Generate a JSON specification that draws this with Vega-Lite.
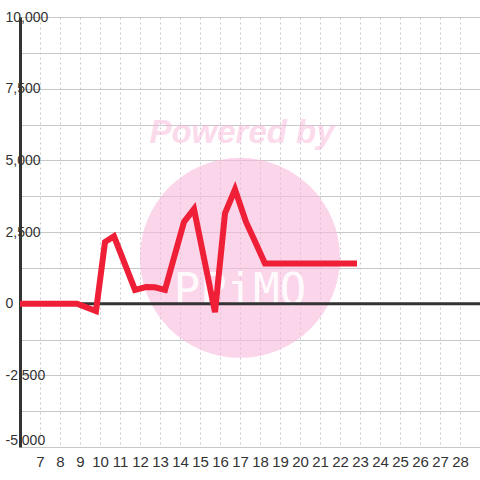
{
  "$schema": "https://vega.github.io/schema/vega-lite/v6.json",
  "width": 460,
  "height": 430,
  "autosize": {"type": "none"},
  "padding": {"left": 20, "top": 17, "right": 0, "bottom": 33},
  "background": "white",
  "config": {
    "view": {"stroke": null},
    "font": "Liberation Sans"
  },
  "datasets": {
    "series": [
      {"x": 6, "v": 0},
      {"x": 8.85, "v": 0},
      {"x": 9.8, "v": -260},
      {"x": 10.25, "v": 2150},
      {"x": 10.7, "v": 2350},
      {"x": 11.75, "v": 480},
      {"x": 12.3, "v": 580},
      {"x": 12.75, "v": 570},
      {"x": 13.25, "v": 480},
      {"x": 14.2, "v": 2850},
      {"x": 14.7, "v": 3300},
      {"x": 15.75, "v": -300},
      {"x": 16.25, "v": 3150},
      {"x": 16.75, "v": 3980},
      {"x": 17.3, "v": 2850},
      {"x": 17.7, "v": 2250},
      {"x": 18.25, "v": 1400},
      {"x": 22.85, "v": 1400}
    ],
    "circle": [{"x": 17, "v": 1600}],
    "powered": [{"x": 17.1, "v": 5950, "t": "Powered by"}],
    "logo": [{"x": 17, "v": 420, "t": "PPiMO"}],
    "zero": [{"x": 6, "v": 0}, {"x": 29, "v": 0}]
  },
  "encoding": {
    "x": {
      "field": "x", "type": "quantitative",
      "scale": {"domain": [6, 29], "nice": false, "zero": false},
      "axis": {
        "values": [7,8,9,10,11,12,13,14,15,16,17,18,19,20,21,22,23,24,25,26,27,28],
        "grid": true, "gridDash": [2, 3], "gridColor": "#c8c8c8", "gridWidth": 1,
        "domain": false, "ticks": false, "labelPadding": 7, "labelFontSize": 15,
        "labelColor": "#333", "title": null, "labelFlush": false, "labelOverlap": false,
        "labelBound": false, "labelSeparation": 0
      }
    },
    "y": {
      "field": "v", "type": "quantitative",
      "scale": {"domain": [-5000, 10000], "nice": false, "zero": false},
      "axis": {
        "values": [-5000,-3750,-2500,-1250,0,1250,2500,3750,5000,6250,7500,8750,10000],
        "labelExpr": "datum.value % 2500 == 0 ? replace(format(datum.value, ','), '−', '-') : ''",
        "grid": true, "gridColor": "#c8c8c8", "gridWidth": 1,
        "domain": true, "domainColor": "#333", "domainWidth": 3,
        "ticks": false, "labelAlign": "left", "labelPadding": 15, "labelFontSize": 14,
        "labelBaseline": {"condition": {"test": "datum.value == -5000", "value": "bottom"}, "value": "middle"},
        "labelColor": "#333", "title": null, "labelFlush": false, "labelOverlap": false, "labelBound": false
      }
    }
  },
  "layer": [
    {
      "data": {"name": "circle"},
      "mark": {"type": "point", "filled": true, "size": 40000, "color": "#f8b9dc", "opacity": 0.6}
    },
    {
      "data": {"name": "powered"},
      "mark": {"type": "text", "fontSize": 33, "fontWeight": "bold", "fontStyle": "italic", "color": "#f9b6da", "opacity": 0.5, "font": "Liberation Sans"},
      "encoding": {"text": {"field": "t"}}
    },
    {
      "data": {"name": "logo"},
      "mark": {"type": "text", "fontSize": 44, "color": "white", "opacity": 0.9, "font": "DejaVu Sans Mono", "letterSpacing": 1},
      "encoding": {"text": {"field": "t"}}
    },
    {
      "data": {"name": "zero"},
      "mark": {"type": "line", "color": "#333", "strokeWidth": 3}
    },
    {
      "data": {"name": "series"},
      "mark": {"type": "line", "color": "#ee1f36", "strokeWidth": 6, "strokeJoin": "miter"}
    }
  ]
}
